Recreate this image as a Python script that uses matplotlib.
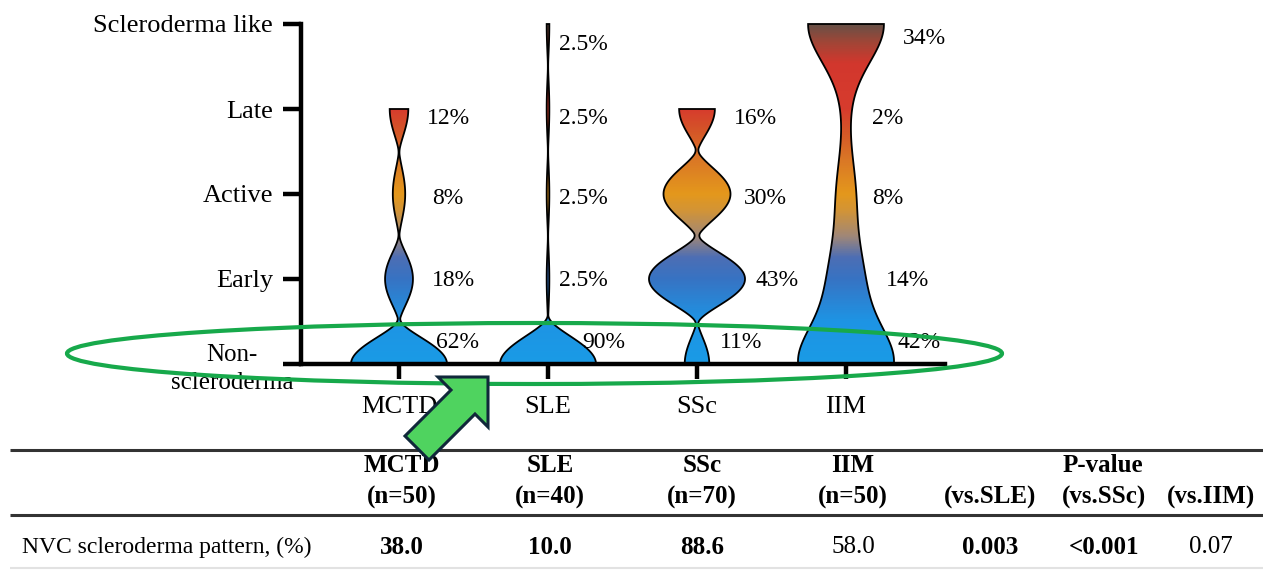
import numpy as np
import matplotlib
matplotlib.use("Agg")
import matplotlib.pyplot as plt
from matplotlib.colors import LinearSegmentedColormap
from matplotlib.patches import Polygon, Ellipse

plt.rcParams['font.family'] = ['Liberation Serif', 'DejaVu Serif']

# ---------------- data ----------------
levels = ["Non-\nscleroderma", "Early", "Active", "Late", "Scleroderma like"]
groups = ["MCTD", "SLE", "SSc", "IIM"]

mctd_pct = [62, 18, 8, 12, 0]
sle_pct = [90, 2.5, 2.5, 2.5, 2.5]
ssc_pct = [11, 43, 30, 16, 0]
iim_pct = [42, 14, 8, 2, 34]

table_n = [50, 40, 70, 50]
nvc_pattern = [38.0, 10.0, 88.6, 58.0]
nvc_bold = [True, True, True, False]
pvalue_cols = ["(vs.SLE)", "(vs.SSc)", "(vs.IIM)"]
pvalues = ["0.003", "<0.001", "0.07"]
pvalue_bold = [True, True, False]
row_label = "NVC scleroderma pattern, (%)"

# ---------------- layout / style ----------------
W, H = 1263, 571
PX_X = 149.0      # pixels per category on x
PX_Y = 85.0       # pixels per level on y
max_half = 48 / PX_X

# smoothing kernel and bandwidth for each violin
kernels = [("biweight", 0.55), ("biweight", 0.58), ("biweight", 0.55), ("gauss", 0.45)]

# label offsets (pixels right of the category centre) and label heights (pixel rows)
label_dx_px = [[37, 33, 33, 28], [34, 11, 11, 11, 11], [23, 59, 47, 37], [52, 40, 26, 26, 57]]
label_y_px = [[342, 280, 198, 119], [342, 280, 198, 119, 44],
              [342, 280, 198, 119], [342, 280, 198, 119, 38]]

grad_stops = [(0.0, "#1a9be6"), (0.5 / 4, "#1e94e4"), (1.0 / 4, "#3773c3"),
              (1.25 / 4, "#4d6eb4"), (1.5 / 4, "#a08778"), (1.8 / 4, "#d29437"),
              (2.0 / 4, "#e4981c"), (2.4 / 4, "#da7826"), (2.75 / 4, "#d45528"),
              (3.0 / 4, "#d73c2d"), (3.55 / 4, "#d2372d"), (3.8 / 4, "#a04637"),
              (1.0, "#695046")]
cmap = LinearSegmentedColormap.from_list("nvc", grad_stops)

fig = plt.figure(figsize=(W / 100, H / 100), dpi=100)
x_left, x_right = 301, 945
y_top, y_base = 24, 364
ax = fig.add_axes([x_left / W, 1 - y_base / H, (x_right - x_left) / W, (y_base - y_top) / H])

xpos = np.arange(len(groups))
pcts = [mctd_pct, sle_pct, ssc_pct, iim_pct]

for xi, pct, (kind, bw) in zip(xpos, pcts, kernels):
    top = max(i for i, p in enumerate(pct) if p > 0)
    yy = np.linspace(0, top, 800)
    dens = np.zeros_like(yy)
    for lvl, p in enumerate(pct):
        u = (yy - lvl) / bw
        if kind == "gauss":
            k = np.exp(-0.5 * u ** 2)
        else:
            k = np.clip(1 - u ** 2, 0, None) ** 2
        dens += p * k
    half = dens / dens.max() * max_half
    verts = np.column_stack([np.r_[xi - half, (xi + half)[::-1]],
                             np.r_[yy, yy[::-1]]])
    poly = Polygon(verts, closed=True, facecolor='none', edgecolor='black',
                   lw=1.3, zorder=3, clip_on=False)
    ax.add_patch(poly)
    img = ax.imshow(np.linspace(0, 1, 400).reshape(-1, 1), cmap=cmap, vmin=0, vmax=1,
                    origin='lower', extent=[xi - max_half, xi + max_half, 0, 4],
                    aspect='auto', zorder=2, interpolation='bilinear')
    img.set_clip_path(poly)

    for lvl, p in enumerate(pct):
        if p <= 0:
            continue
        ax.text(xi + label_dx_px[xi][lvl] / PX_X, (y_base - label_y_px[xi][lvl]) / PX_Y,
                f"{p:g}%", ha='left', va='center', fontsize=17, zorder=4)

ax.set_xlim(-(399 - x_left) / PX_X, 3 + (x_right - 846) / PX_X)
ax.set_ylim(0, 4)
ax.set_aspect('auto')

for side in ('top', 'right'):
    ax.spines[side].set_visible(False)
for side in ('left', 'bottom'):
    ax.spines[side].set_linewidth(3.2)
    ax.spines[side].set_capstyle('projecting')

ax.set_yticks(range(len(levels)))
ax.set_yticklabels([""] + levels[1:])
ax.set_xticks(xpos)
ax.set_xticklabels(groups)
ax.tick_params(axis='y', length=13, width=3.2, pad=7, labelsize=19)
ax.tick_params(axis='x', length=11, width=3.2, pad=12, labelsize=19)

# ---------------- overlay in pixel coordinates ----------------
ov = fig.add_axes([0, 0, 1, 1])
ov.set_xlim(0, W)
ov.set_ylim(H, 0)
ov.axis('off')

ov.text(232, 369, levels[0], ha='center', va='center', fontsize=18,
        linespacing=1.3, multialignment='center')

# table
ov.plot([10, W], [450, 450], color='#333333', lw=2.2, solid_capstyle='butt')
ov.plot([10, W], [515, 515], color='#333333', lw=2.2, solid_capstyle='butt')
ov.plot([10, W], [568, 568], color='#e2e2e2', lw=1.5, solid_capstyle='butt')

col_x = [402, 550, 702, 853]
p_x = [990, 1104, 1211]
row1, row2, row3 = 466, 497, 547

for cx, g, n, v, b in zip(col_x, groups, table_n, nvc_pattern, nvc_bold):
    ov.text(cx, row1, g, ha='center', va='center', fontsize=18, fontweight='bold')
    ov.text(cx, row2, f"(n={n})", ha='center', va='center', fontsize=18, fontweight='bold')
    ov.text(cx, row3, f"{v:.1f}", ha='center', va='center', fontsize=18,
            fontweight='bold' if b else 'normal')

ov.text(1103, row1, "P-value", ha='center', va='center', fontsize=18, fontweight='bold')
for px, lab, pv, b in zip(p_x, pvalue_cols, pvalues, pvalue_bold):
    ov.text(px, row2, lab, ha='center', va='center', fontsize=18, fontweight='bold')
    ov.text(px, row3, pv, ha='center', va='center', fontsize=18,
            fontweight='bold' if b else 'normal')

ov.text(22, row3, row_label, ha='left', va='center', fontsize=17)

# highlight ring and pointer
ov.add_patch(Ellipse((534.5, 353.5), 935, 61, fill=False, edgecolor='#17a94b', lw=3, zorder=5))
arrow = [(488, 377), (438, 377), (451, 390), (405, 436), (429, 460), (475, 414), (488, 427)]
ov.add_patch(Polygon(arrow, closed=True, facecolor='#4fd35f', edgecolor='#10283a',
                     lw=2.2, joinstyle='miter', zorder=6))

fig.savefig("out.png", dpi=100)
